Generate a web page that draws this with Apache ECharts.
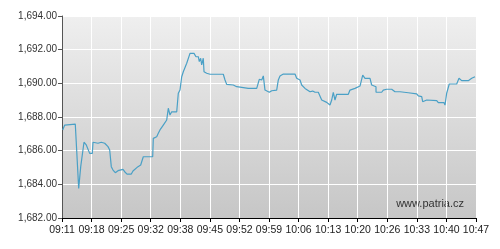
<!DOCTYPE html>
<html><head><meta charset="utf-8">
<script src="https://cdn.jsdelivr.net/npm/echarts@6/dist/echarts.min.js"></script>
<style>html,body{margin:0;padding:0;background:#fff}#c{width:500px;height:249px}</style>
</head><body><div id="c"></div>
<script>
// minutes after 09:11
const minutes = [0.16,0.63,3.08,3.48,3.87,4.34,4.64,5.10,5.63,6.03,6.42,7.03,7.19,8.35,9.11,9.51,9.90,10.27,10.67,11.06,11.43,11.83,12.22,12.36,12.99,13.38,14.14,14.54,15.07,16.07,16.46,16.86,17.62,18.25,18.71,18.85,21.03,21.17,21.96,22.33,22.72,23.12,23.49,23.88,24.28,24.65,25.04,25.44,26.60,26.97,27.36,27.76,28.13,28.92,29.68,30.07,30.61,31.07,31.61,31.84,32.16,32.39,32.76,32.93,33.55,34.32,37.40,37.80,38.19,39.72,40.51,43.20,45.15,45.75,46.31,46.68,47.07,47.47,48.07,48.63,49.78,50.16,50.55,51.32,54.03,54.42,55.19,55.58,56.35,57.51,58.13,58.67,59.43,59.83,60.22,61.38,62.14,62.54,62.91,63.30,63.70,66.39,66.78,67.94,69.10,69.73,70.26,71.42,71.81,72.81,72.82,74.13,74.50,75.29,76.45,77.22,78.38,80.30,82.25,82.62,83.41,83.64,84.57,86.89,87.26,88.58,88.81,89.20,89.80,90.73,91.52,92.06,92.68,94.21,95.00,95.76];
const prices = [1687.23,1687.52,1687.58,1687.58,1683.76,1685.05,1685.15,1686.50,1686.34,1686.34,1685.84,1685.84,1686.50,1686.44,1686.50,1686.59,1686.44,1686.53,1686.24,1686.04,1685.05,1684.85,1684.89,1684.69,1684.81,1684.89,1684.89,1684.75,1684.61,1684.61,1684.79,1684.89,1685.05,1685.15,1685.21,1685.64,1685.64,1686.73,1686.83,1687.03,1687.23,1687.33,1687.52,1687.42,1687.82,1688.52,1688.12,1688.31,1688.31,1689.41,1689.60,1690.39,1690.69,1691.19,1691.78,1691.88,1691.78,1691.58,1691.58,1691.29,1691.49,1691.09,1691.49,1690.69,1690.60,1690.54,1690.54,1690.20,1689.94,1689.90,1689.80,1689.70,1689.70,1690.24,1690.20,1690.44,1689.60,1689.56,1689.47,1689.56,1689.60,1690.20,1690.44,1690.55,1690.55,1690.30,1690.20,1689.90,1689.70,1689.50,1689.54,1689.47,1689.47,1689.41,1689.01,1688.87,1688.71,1689.01,1689.47,1689.01,1689.35,1689.35,1689.60,1689.70,1689.84,1690.49,1690.30,1690.30,1689.90,1689.80,1689.47,1689.47,1689.60,1689.65,1689.65,1689.50,1689.50,1689.44,1689.37,1689.25,1689.21,1688.91,1689.01,1688.97,1688.85,1688.85,1688.71,1689.41,1689.96,1689.96,1689.96,1690.30,1690.16,1690.16,1690.30,1690.39];
const xTickLabels = ['09:11','09:18','09:25','09:32','09:38','09:45','09:52','09:59','10:06','10:13','10:20','10:26','10:33','10:40','10:47'];
const yMin = 1682, yMax = 1694, yStep = 2;
const watermark = 'www.patria.cz';

const span = 96, step = span / (xTickLabels.length - 1);
const chart = echarts.init(document.getElementById('c'), null, {renderer: 'canvas'});
const data = minutes.map((m, i) => [m, prices[i]]);
chart.setOption({
  animation: false,
  backgroundColor: '#fff',
  grid: {left: 62, right: 24, top: 16, bottom: 31, show: true, borderWidth: 0,
    backgroundColor: new echarts.graphic.LinearGradient(0, 0, 0, 1, [
      {offset: 0, color: '#efefef'}, {offset: 1, color: '#c6c6c6'}])},
  xAxis: {
    type: 'value', min: 0, max: span, interval: step,
    axisLine: {show: true, lineStyle: {color: '#000', width: 1}},
    axisTick: {show: true, length: 4, lineStyle: {color: '#000'}},
    splitLine: {show: true, lineStyle: {color: '#fff', width: 1}},
    axisLabel: {color: '#222', fontSize: 10.5, fontFamily: 'Liberation Sans, Arial', margin: 7,
      formatter: v => xTickLabels[Math.round(v / step)] || ''}
  },
  yAxis: {
    type: 'value', min: yMin, max: yMax, interval: yStep,
    axisLine: {show: true, lineStyle: {color: '#555', width: 1}},
    axisTick: {show: true, length: 4, lineStyle: {color: '#555'}},
    splitLine: {show: true, lineStyle: {color: '#fff', width: 1}},
    axisLabel: {color: '#333', fontSize: 10, fontFamily: 'Liberation Sans, Arial', margin: 5,
      formatter: v => v.toLocaleString('en-US', {minimumFractionDigits: 2, maximumFractionDigits: 2})}
  },
  graphic: [{type: 'text', right: 36, bottom: 40,
    style: {text: watermark, fill: '#333', font: '11px Liberation Sans, Arial'}}],
  series: [{type: 'line', data: data, showSymbol: false, symbol: 'none',
    lineStyle: {color: '#4aa0c6', width: 1.2}}]
});
</script></body></html>
